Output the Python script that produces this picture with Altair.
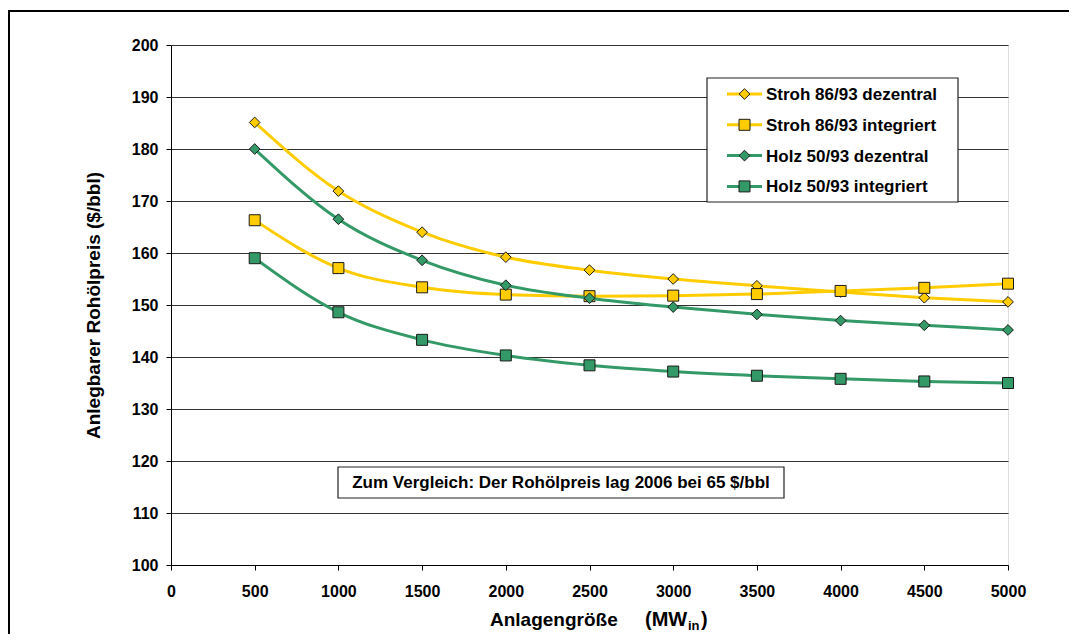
import altair as alt
import pandas as pd

# ---------------- data ----------------
sizes = [500, 1000, 1500, 2000, 2500, 3000, 3500, 4000, 4500, 5000]
stroh_dezentral = [185.1, 171.9, 164.0, 159.2, 156.7, 155.0, 153.7, 152.5, 151.4, 150.6]
stroh_integriert = [166.3, 157.1, 153.4, 152.0, 151.7, 151.8, 152.1, 152.7, 153.3, 154.1]
holz_dezentral = [180.0, 166.5, 158.6, 153.8, 151.3, 149.6, 148.2, 147.0, 146.1, 145.2]
holz_integriert = [159.0, 148.6, 143.3, 140.3, 138.4, 137.2, 136.4, 135.8, 135.3, 135.0]

series_names = ["Stroh 86/93 dezentral", "Stroh 86/93 integriert",
                "Holz 50/93 dezentral", "Holz 50/93 integriert"]
series_values = [stroh_dezentral, stroh_integriert, holz_dezentral, holz_integriert]
series_colors = ["#FFCC00", "#FFCC00", "#339966", "#339966"]
series_shapes = ["diamond", "square", "diamond", "square"]
series_sizes = [115, 121, 115, 121]

x_ticks = [0, 500, 1000, 1500, 2000, 2500, 3000, 3500, 4000, 4500, 5000]
y_ticks = [100, 110, 120, 130, 140, 150, 160, 170, 180, 190, 200]

y_title = "Anlegbarer Rohölpreis ($/bbl)"
x_title_main = "Anlagengröße"
x_title_unit = "(MW"
x_title_sub = "in"
x_title_close = ")"
note_text = "Zum Vergleich: Der Rohölpreis lag 2006 bei 65 $/bbl"

rows = []
for name, vals in zip(series_names, series_values):
    for s, v in zip(sizes, vals):
        rows.append({"series": name, "size": s, "price": v})
df = pd.DataFrame(rows)

FONT = "Liberation Sans"
W, H = 837, 520

x_enc = alt.X("size:Q",
              scale=alt.Scale(domain=[0, 5000], nice=False),
              axis=alt.Axis(values=x_ticks, title=None, grid=False, format="d",
                            tickSize=5, labelPadding=13, labelFontSize=16,
                            labelFont=FONT, labelFontWeight="bold",
                            labelColor="black", domainColor="black",
                            tickColor="black", labelFlush=False))
y_enc = alt.Y("price:Q",
              scale=alt.Scale(domain=[100, 200], nice=False, zero=False),
              axis=alt.Axis(values=y_ticks, title=y_title, grid=True,
                            gridColor="#333333", gridWidth=1,
                            tickSize=5, labelPadding=8, labelFontSize=16,
                            labelFont=FONT, labelFontWeight="bold",
                            labelColor="black", domainColor="black",
                            tickColor="black",
                            titleFont=FONT, titleFontSize=19, titleFontWeight="bold",
                            titleColor="black", titleAngle=270, titleX=-72, titleY=H / 2,
                            titleAlign="center", titleBaseline="alphabetic"))

layers = []

# outer chart frame (Excel chart area), cut off at right and bottom
dummy = alt.Data(values=[{}])
frame = alt.Chart(dummy).mark_rect(fill="transparent", stroke="black", strokeWidth=2).encode(
    x=alt.value(-162), x2=alt.value(1000), y=alt.value(-34), y2=alt.value(700))
layers.append(frame)

for name, color, shape, sz in zip(series_names, series_colors, series_shapes, series_sizes):
    base = alt.Chart(df).transform_filter(alt.datum.series == name)
    line = base.mark_line(color=color, strokeWidth=3, interpolate="monotone").encode(
        x=x_enc, y=y_enc, order="size:Q")
    pts = base.mark_point(shape=shape, size=sz, filled=True, fill=color,
                          stroke="#1a1a1a", strokeWidth=1, opacity=1).encode(
        x=x_enc, y=y_enc)
    layers += [line, pts]

# legend box
layers.append(alt.Chart(dummy).mark_rect(fill="white", stroke="#222222", strokeWidth=1.2).encode(
    x=alt.value(536), x2=alt.value(787), y=alt.value(33), y2=alt.value(157)))
for i, (name, color, shape, sz) in enumerate(zip(series_names, series_colors, series_shapes, series_sizes)):
    ly = 49 + i * 30.8
    layers.append(alt.Chart(dummy).mark_rule(color=color, strokeWidth=3).encode(
        x=alt.value(556), x2=alt.value(591), y=alt.value(ly)))
    layers.append(alt.Chart(dummy).mark_point(shape=shape, size=sz, filled=True, fill=color,
                                              stroke="#1a1a1a", strokeWidth=1, opacity=1).encode(
        x=alt.value(573.5), y=alt.value(ly)))
    layers.append(alt.Chart(dummy).mark_text(text=name, font=FONT, fontSize=17, fontWeight="bold",
                                             align="left", baseline="middle", color="black").encode(
        x=alt.value(595), y=alt.value(ly + 1)))

# note box
layers.append(alt.Chart(dummy).mark_rect(fill="white", stroke="#222222", strokeWidth=1.2).encode(
    x=alt.value(167), x2=alt.value(613), y=alt.value(422), y2=alt.value(453)))
layers.append(alt.Chart(dummy).mark_text(text=note_text, font=FONT, fontSize=17, fontWeight="bold",
                                         align="center", baseline="middle", color="black").encode(
    x=alt.value(390), y=alt.value(438)))

# x axis title with subscript
layers.append(alt.Chart(dummy).mark_text(text=x_title_main, font=FONT, fontSize=19, fontWeight="bold",
                                         align="left", baseline="alphabetic", color="black").encode(
    x=alt.value(319), y=alt.value(581)))
layers.append(alt.Chart(dummy).mark_text(text=x_title_unit, font=FONT, fontSize=20, fontWeight="bold",
                                         align="left", baseline="alphabetic", color="black").encode(
    x=alt.value(474), y=alt.value(581)))
layers.append(alt.Chart(dummy).mark_text(text=x_title_sub, font=FONT, fontSize=13, fontWeight="bold",
                                         align="left", baseline="alphabetic", color="black").encode(
    x=alt.value(517), y=alt.value(585)))
layers.append(alt.Chart(dummy).mark_text(text=x_title_close, font=FONT, fontSize=20, fontWeight="bold",
                                         align="left", baseline="alphabetic", color="black").encode(
    x=alt.value(530), y=alt.value(581)))

chart = alt.layer(*layers).properties(
    width=W, height=H,
    autosize=alt.AutoSizeParams(type="none"),
    padding={"left": 163, "top": 37, "right": 61, "bottom": 69},
).configure_view(stroke="#222222", strokeWidth=1).configure(background="white")

chart.save("out.html", embed_options={"renderer": "svg", "actions": False})
